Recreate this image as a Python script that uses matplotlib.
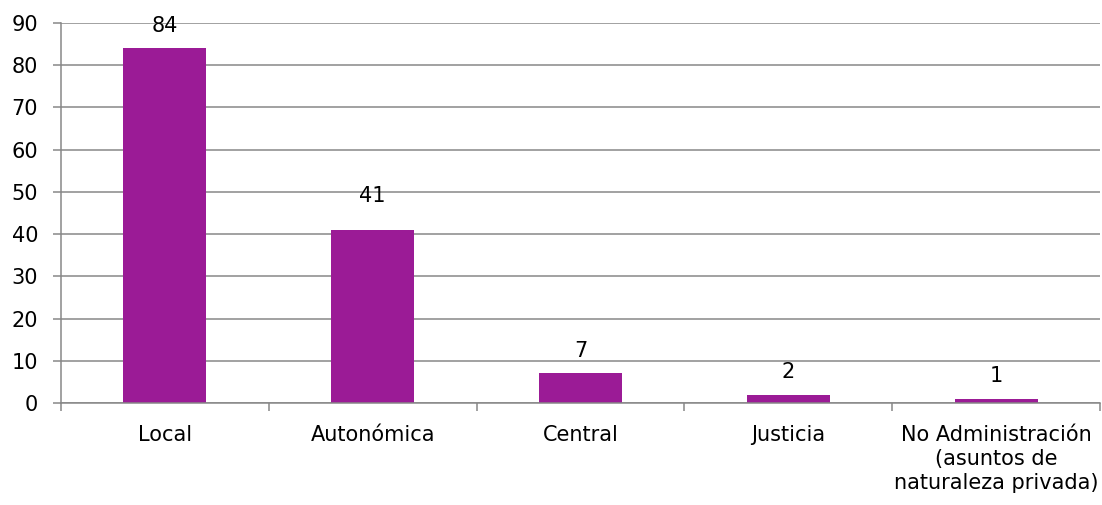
import matplotlib
matplotlib.use('Agg')
import matplotlib.pyplot as plt
import numpy as np

# data
categories = ['Local', 'Autonómica', 'Central', 'Justicia',
              'No Administración\n(asuntos de\nnaturaleza privada)']
values = [84, 41, 7, 2, 1]
yticks = list(range(0, 100, 10))

bar_color = '#9B1B96'
grid_color = '#878787'
label_offsets = [9, 17, 9, 9, 9]  # points above bar top (41 sits higher in the original)

plt.rcParams['font.family'] = 'DejaVu Sans'
plt.rcParams['font.size'] = 15

fig = plt.figure(figsize=(11.02, 5.05), dpi=100)
ax = fig.add_axes([61 / 1102, 102 / 505, 1039 / 1102, 380 / 505])

x = np.arange(len(categories))
bars = ax.bar(x, values, width=0.4, color=bar_color, zorder=3)

for b, v, off in zip(bars, values, label_offsets):
    ax.annotate(str(v), (b.get_x() + b.get_width() / 2, b.get_height()),
                xytext=(0, off), textcoords='offset points',
                ha='center', va='bottom', fontsize=15, zorder=4)

ax.set_xlim(-0.5, len(categories) - 0.5)
ax.set_ylim(0, 90)
ax.set_yticks(yticks)
ax.yaxis.grid(True, color=grid_color, linewidth=1.1, zorder=0)

# category labels centred, tick marks on the boundaries
ax.set_xticks(x)
ax.set_xticklabels(categories, linespacing=1.25)
ax.tick_params(axis='x', which='major', length=0, pad=16)
ax.set_xticks(np.arange(-0.5, len(categories), 1), minor=True)
ax.tick_params(axis='x', which='minor', length=6, width=1.1, color=grid_color, direction='out')
ax.tick_params(axis='y', length=5.5, width=1.1, color=grid_color, pad=11)

for s in ['top', 'right']:
    ax.spines[s].set_visible(False)
for s in ['left', 'bottom']:
    ax.spines[s].set_color(grid_color)
    ax.spines[s].set_linewidth(1.1)
    ax.spines[s].set_zorder(3)

fig.savefig('out.png', dpi=100)
